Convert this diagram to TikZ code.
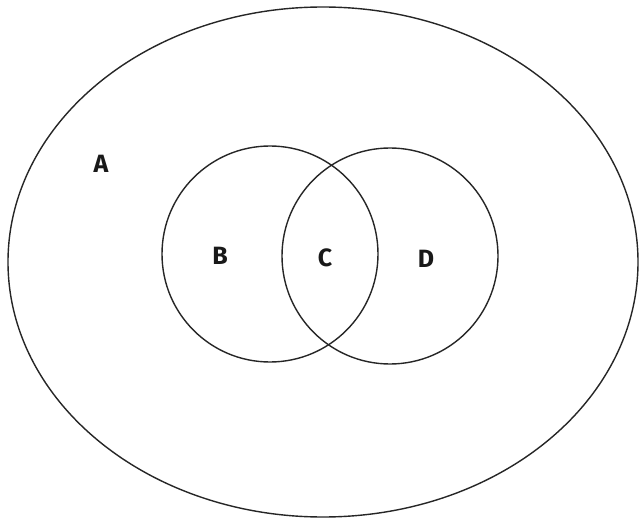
\documentclass[tikz,border=0pt]{standalone}
\usepackage{fontspec}
\setmainfont{Fira Sans}
\begin{document}
\begin{tikzpicture}[x=1pt,y=-1pt,
  setline/.style={draw=black!85, line width=1.4pt},
  setlabel/.style={font=\bfseries\fontsize{25}{27}\selectfont, text=black!90, inner sep=0pt}]
\fill[white] (0,0) rectangle (642,521);
\useasboundingbox (0,0) rectangle (642,521);
\draw[setline] (323,262) ellipse [x radius=315, y radius=255];
\draw[setline] (270,254) circle [radius=108];
\draw[setline] (390,256) circle [radius=108];
\node[setlabel] (A) at (101,164) {A};
\node[setlabel] (B) at (220,256) {B};
\node[setlabel] (C) at (325,258) {C};
\node[setlabel] (D) at (426,259) {D};
\end{tikzpicture}
\end{document}
